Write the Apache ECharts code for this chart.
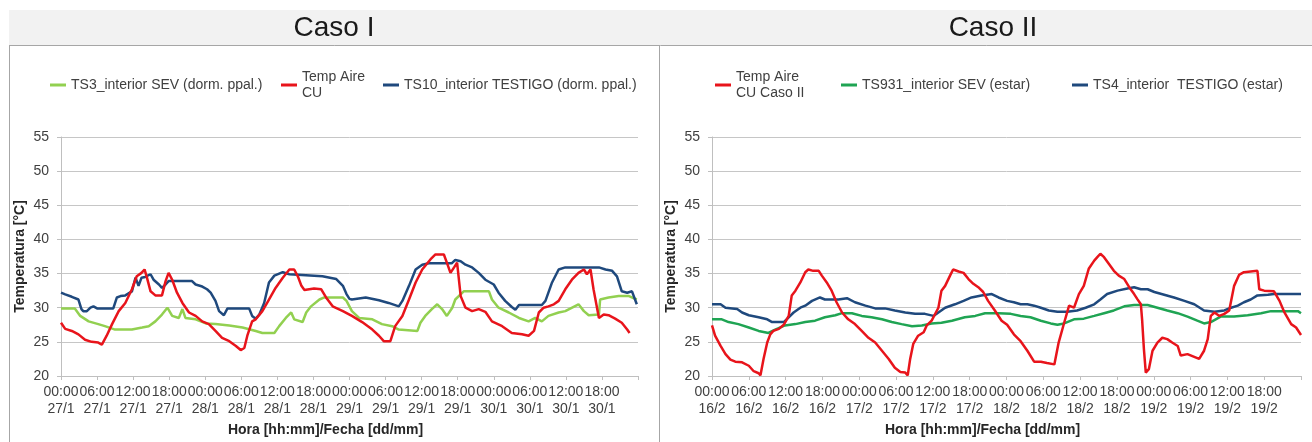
<!DOCTYPE html>
<html>
<head>
<meta charset="utf-8">
<script src="https://cdn.jsdelivr.net/npm/echarts@6/dist/echarts.min.js"></script>
<style>
html,body{margin:0;padding:0;background:#fff;}
#chart{width:1312px;height:442px;}
</style>
</head>
<body>
<div id="chart"></div>
<script>
// ---------- tick labels ----------
const hourLabels = ['00:00', '06:00', '12:00', '18:00'];
const caso1Dates = ['27/1', '28/1', '29/1', '30/1'];
const caso2Dates = ['16/2', '17/2', '18/2', '19/2'];

// ---------- series names ----------
const caso1Names = ['TS3_interior SEV (dorm. ppal.)', 'Temp Aire CU', 'TS10_interior TESTIGO (dorm. ppal.)'];
const caso2Names = ['Temp Aire CU Caso II', 'TS931_interior SEV (estar)', 'TS4_interior  TESTIGO (estar)'];

// ---------- data: [hours since first 00:00, °C] ----------
const caso1Ts3 = [[0,29.9],[2.3,29.9],[3.2,28.8],[4.6,28],[6.2,27.6],[7.3,27.3],[9,26.8],[11.8,26.8],[13.5,27.1],[14.6,27.3],[15.7,28],[16.8,29],[17.7,30],[18.5,28.8],[19.6,28.5],[20.2,29.8],[20.7,28.5],[22.4,28.3],[24.1,27.7],[25.7,27.6],[28,27.4],[30.2,27.1],[32.4,26.6],[33.5,26.3],[35.5,26.3],[36.3,27.3],[37.4,28.5],[38.3,29.3],[38.8,28.3],[40.2,27.9],[40.8,29.3],[41.6,30.2],[43,31.2],[43.8,31.5],[46.9,31.5],[47.5,31],[48.4,29.5],[49.6,28.5],[51.8,28.3],[53.4,27.6],[55.1,27.3],[56.2,26.8],[59.3,26.6],[59.8,27.8],[60.6,28.8],[61.7,29.8],[62.6,30.5],[63.4,29.8],[64.2,28.8],[65.1,30],[65.6,31.2],[67,32.4],[71.2,32.4],[71.7,31.2],[72.8,30],[74.5,29.3],[76.2,28.5],[77.8,28],[78.9,28.5],[80,28],[81.1,28.8],[82.8,29.3],[83.9,29.5],[86.1,30.5],[87,29.5],[87.8,28.9],[89.5,29],[89.7,31.2],[91.1,31.5],[92.8,31.7],[94.5,31.7],[95.8,31.2]];
const caso1TempAire = [[0,27.8],[0.7,26.9],[1.8,26.6],[2.9,26.1],[4,25.3],[5.1,25],[6.2,24.9],[6.8,24.6],[7.6,25.9],[8.5,27.6],[9.6,29.5],[10.7,30.7],[11.8,32.7],[12.6,34.6],[13.4,35.1],[13.9,35.6],[14.3,34.4],[14.9,32.4],[15.7,31.8],[16.8,31.8],[17.4,33.9],[17.9,35.1],[18.5,34.1],[19.3,32.2],[20.2,30.7],[21.3,29.3],[22.4,28.8],[23.5,28],[24.6,27.6],[25.7,26.6],[26.8,25.6],[28,25.1],[29.1,24.4],[29.9,23.8],[30.5,24.1],[31,25.9],[31.8,28],[32.4,28.3],[33.5,29.5],[34.6,31.2],[35.7,32.9],[36.9,34.4],[38,35.6],[38.8,35.6],[39.4,34.6],[40,33.2],[40.5,32.6],[41.3,32.7],[42.1,32.8],[43.3,32.7],[44.1,31.5],[45.2,30.2],[46.9,29.5],[48,29],[48.4,28.8],[50.1,27.9],[51.8,26.8],[52.9,25.9],[53.7,25.1],[54.8,25.1],[55.6,27.3],[56.8,28.8],[57.9,31.2],[59,33.7],[60.1,35.6],[61.5,37.1],[62.3,37.8],[63.7,37.8],[64.2,36.6],[64.8,35.1],[65.4,35.9],[65.9,36.6],[66.5,31.7],[67.3,30],[68.4,29.5],[69.5,29.8],[70.6,29.4],[71.7,28],[73.4,27.3],[75,26.3],[76.7,26.1],[77.8,25.9],[78.7,26.6],[79.5,29.3],[80.3,30],[81.1,30.2],[82,30.5],[82.8,31],[83.9,32.7],[85,34.1],[86.1,35.1],[87,35.6],[87.5,34.9],[88.1,35.6],[88.6,32.7],[89.5,28.5],[90.3,29],[91.1,28.9],[92.2,28.4],[93.3,27.8],[94.2,26.8],[94.6,26.3]];
const caso1Ts10 = [[0,32.2],[0.7,31.95],[1.8,31.6],[2.9,31.2],[3.4,29.8],[3.7,29.5],[4.3,29.5],[4.9,30],[5.4,30.2],[6,29.9],[8.7,29.9],[9.3,31.5],[9.9,31.7],[10.7,31.8],[11.8,32.4],[12.4,34.4],[12.9,33.2],[13.4,34.4],[14,34.5],[14.9,34.9],[15.4,34.1],[16.3,33.4],[16.8,32.9],[17.4,33.4],[17.9,33.9],[21.8,33.9],[22.4,33.4],[23.5,33.1],[24.3,32.7],[24.9,32.2],[25.7,31],[26.3,29.5],[27.1,28.9],[27.7,29.9],[31.3,29.9],[31.8,28.8],[32.4,28.4],[33,29],[33.8,30.7],[34.6,33.7],[35.5,34.7],[36.9,35.2],[38,34.9],[43.5,34.6],[45.8,34.2],[46.9,33.2],[47.5,32],[48,31.3],[48.4,31.2],[50.7,31.5],[52.9,31.1],[54.5,30.7],[56.2,30.2],[56.8,31],[57.9,33.2],[59,35.6],[60.1,36.3],[61.2,36.5],[65,36.5],[65.6,37],[66.5,36.8],[67.3,36.3],[68.4,35.9],[69.5,35.1],[70.6,34.1],[72,33.4],[72.8,32.2],[73.9,31],[75,30.1],[75.6,29.7],[76.2,30.4],[80,30.4],[80.6,31],[81.7,33.7],[82.8,35.6],[83.9,35.9],[89.5,35.9],[90.6,35.6],[91.7,35.4],[92.5,34.6],[93.3,32.4],[94.2,32.2],[95,32.4],[95.8,30.5]];

const caso2TempAire = [[0,27.4],[0.5,25.9],[1.4,24.4],[2.2,23.2],[3,22.4],[3.8,22.1],[4.9,22],[6,21.5],[6.8,20.7],[7.6,20.4],[7.9,20.1],[8.4,22.5],[9,24.9],[9.5,26.1],[10,26.6],[10.9,26.9],[11.7,27.5],[12.5,28.8],[13,31.8],[13.6,32.5],[14.4,33.7],[15.2,35.2],[15.7,35.6],[16.5,35.4],[17.4,35.4],[17.9,34.7],[18.7,33.7],[19.5,32.5],[20.3,30.8],[21.2,29.3],[22.2,28.3],[23.3,27.6],[24.4,26.6],[25.5,25.6],[26.6,24.9],[27.7,23.7],[28.8,22.5],[29.8,21.2],[30.7,20.6],[31.5,20.5],[31.9,20.1],[32.3,22.5],[32.8,24.7],[33.6,25.9],[34.5,26.4],[35,27.4],[35.8,28.1],[36.9,30],[37.4,32.5],[38,33.2],[38.8,34.7],[39.3,35.6],[40.2,35.3],[41,35.1],[41.8,34.2],[42.6,33.5],[43.4,33],[44.2,32.3],[45,31],[46.1,29.6],[47.2,28.1],[48.1,27.5],[49.2,26.1],[50.3,25.1],[51.4,23.7],[52.5,22.1],[53.6,22.1],[54.6,21.9],[55.8,21.7],[56.5,24.9],[57.4,27.8],[58.2,30.3],[59,30],[59.8,32],[60.6,33.2],[61.4,35.7],[62.3,36.9],[62.8,37.4],[63.3,37.9],[63.9,37.4],[64.7,36.4],[65.5,35.4],[66.3,34.7],[67.2,34.2],[68,33],[68.8,32],[69.3,31.3],[69.9,30.5],[70.1,28.3],[70.4,23.9],[70.7,20.5],[71.2,21],[71.8,23.7],[72.6,24.9],[73.4,25.6],[74.2,25.4],[75,24.9],[75.9,24.4],[76.4,23],[77.5,23.2],[78.6,22.8],[79.4,22.5],[80.2,23.7],[80.8,25.4],[81.3,28.8],[81.9,29.3],[82.7,28.8],[83.5,29.1],[84.3,29.6],[85.1,33.2],[85.9,34.8],[86.7,35.2],[87.8,35.3],[88.9,35.4],[89.2,32.7],[90,32.5],[91.6,32.4],[92.5,31],[93.3,29.3],[94.4,27.6],[95.2,27.1],[96,26]];
const caso2Ts931 = [[0,28.3],[1.6,28.3],[2.7,27.9],[4.3,27.6],[6,27.1],[7.6,26.6],[9.2,26.3],[10.3,26.8],[11.9,27.4],[13.6,27.6],[15.2,27.9],[16.8,28.1],[18.4,28.6],[20.1,28.9],[21.2,29.2],[22.8,29.2],[24.4,28.8],[26,28.6],[27.7,28.3],[29.3,27.9],[30.9,27.6],[32.6,27.3],[34.2,27.4],[35.8,27.7],[37.4,27.8],[39.1,28.1],[41.2,28.6],[42.9,28.8],[44.5,29.2],[46.7,29.2],[48.7,29.1],[50.3,28.8],[51.9,28.6],[53.6,28.1],[55.2,27.7],[56.3,27.5],[57.4,27.7],[59,28.3],[60.6,28.4],[62.3,28.8],[63.9,29.2],[65.5,29.6],[67.2,30.2],[68.8,30.4],[71,30.4],[72.6,30],[74.2,29.6],[75.9,29.2],[77.5,28.7],[79.1,28.1],[80.2,27.7],[81.3,27.9],[82.9,28.7],[85.1,28.7],[87.3,28.9],[89.5,29.2],[91.1,29.5],[95.5,29.5],[96,29.2]];
const caso2Ts4 = [[0,30.5],[1.4,30.5],[2.2,30],[3.3,29.9],[4.1,29.8],[4.9,29.3],[6,28.9],[7.6,28.6],[9,28.3],[9.8,27.9],[11.7,27.9],[12.5,28.6],[13.3,29.3],[14.4,30],[15.2,30.3],[16.3,31],[17.6,31.5],[18.4,31.2],[20.6,31.2],[22,31.4],[23.3,30.8],[25,30.3],[26.6,29.9],[28.2,29.9],[29.8,29.6],[31.5,29.3],[33.1,29.1],[34.7,29.1],[36.1,28.8],[36.9,29.3],[38,30],[39.6,30.5],[41,31],[42.3,31.5],[43.9,31.8],[45.6,32],[46.7,31.5],[48.1,31],[49.2,30.8],[50.3,30.5],[51.4,30.5],[52.5,30.3],[53.6,30],[54.9,29.6],[56.3,29.4],[57.9,29.4],[59.5,29.6],[60.9,30],[62.3,30.5],[63.3,31.2],[64.4,32],[66.1,32.5],[67.7,32.8],[68.8,33],[69.9,32.7],[71,32.7],[72.1,32.3],[73.7,31.9],[75.3,31.5],[77,31],[78.6,30.5],[80.2,29.6],[81.9,29.4],[83.5,29.6],[84.6,30],[85.7,30.3],[86.7,30.8],[87.8,31.2],[88.9,31.8],[90.6,31.9],[91.6,32],[96,32]];

// ---------- styling ----------
const FONT = '"Liberation Sans", Arial, sans-serif';
const LABEL_COLOR = '#404040';
const AXIS_COLOR = '#bfbfbf';

function xAxisFor(gridIndex, dates) {
  return {
    type: 'value', gridIndex: gridIndex, min: 0, max: 96, interval: 6,
    name: 'Hora [hh:mm]/Fecha [dd/mm]', nameLocation: 'middle', nameGap: 45,
    nameTextStyle: { fontFamily: FONT, fontSize: 14, fontWeight: 'bold', color: '#262626', padding: [0, 48, 0, 0] },
    axisLine: { show: true, lineStyle: { color: AXIS_COLOR, width: 1 } },
    axisTick: { show: true, length: 4, lineStyle: { color: AXIS_COLOR } },
    splitLine: { show: false },
    axisLabel: {
      fontFamily: FONT, fontSize: 14, color: LABEL_COLOR, margin: 8, lineHeight: 17,
      showMaxLabel: true,
      formatter: function (v) {
        if (v >= 96) return '';
        const idx = Math.round(v / 6);
        return hourLabels[idx % 4] + '\n' + dates[Math.floor(idx / 4)];
      }
    }
  };
}
function yAxisFor(gridIndex) {
  return {
    type: 'value', gridIndex: gridIndex, min: 20, max: 55, interval: 5,
    name: 'Temperatura [°C]', nameLocation: 'middle', nameGap: 34,
    nameTextStyle: { fontFamily: FONT, fontSize: 14, fontWeight: 'bold', color: '#262626' },
    axisLine: { show: true, lineStyle: { color: AXIS_COLOR, width: 1 } },
    axisTick: { show: true, length: 4, lineStyle: { color: AXIS_COLOR } },
    splitLine: { show: true, lineStyle: { color: '#c6c6c6', width: 1 } },
    axisLabel: { fontFamily: FONT, fontSize: 14, color: LABEL_COLOR, margin: 12 }
  };
}
function lineSeries(name, data, color, idx) {
  return {
    type: 'line', name: name, data: data, xAxisIndex: idx, yAxisIndex: idx,
    showSymbol: false, symbol: 'none', color: color,
    lineStyle: { width: 2.5, color: color }, animation: false
  };
}
function legendFor(name, left, multi) {
  return {
    data: [name], left: left, top: multi ? 61 : 77, padding: 0,
    icon: 'rect', itemWidth: 16, itemHeight: 3, selectedMode: false,
    formatter: function (n) {
      return n.replace('Temp Aire CU Caso II', 'Temp Aire\nCU Caso II').replace(/^Temp Aire CU$/, 'Temp Aire\nCU');
    },
    textStyle: { fontFamily: FONT, fontSize: 14, color: LABEL_COLOR, lineHeight: 16, padding: multi ? [16, 0, 0, 0] : 0 }
  };
}

const chart = echarts.init(document.getElementById('chart'));
chart.setOption({
  animation: false,
  backgroundColor: '#ffffff',
  grid: [
    { left: 61, top: 137, width: 577, height: 239, outerBoundsMode: 'none', containLabel: false },
    { left: 712, top: 137, width: 589, height: 239, outerBoundsMode: 'none', containLabel: false }
  ],
  xAxis: [xAxisFor(0, caso1Dates), xAxisFor(1, caso2Dates)],
  yAxis: [yAxisFor(0), yAxisFor(1)],
  legend: [
    legendFor(caso1Names[0], 50, false),
    legendFor(caso1Names[1], 281, true),
    legendFor(caso1Names[2], 383, false),
    legendFor(caso2Names[0], 715, true),
    legendFor(caso2Names[1], 841, false),
    legendFor(caso2Names[2], 1072, false)
  ],
  graphic: [
    { type: 'rect', shape: { x: 9, y: 10, width: 1303, height: 35 }, style: { fill: '#f2f2f2' }, z: -1, silent: true },
    { type: 'line', shape: { x1: 9, y1: 45.5, x2: 1312, y2: 45.5 }, style: { stroke: '#a6a6a6', lineWidth: 1 }, silent: true },
    { type: 'line', shape: { x1: 9.5, y1: 45, x2: 9.5, y2: 442 }, style: { stroke: '#a6a6a6', lineWidth: 1 }, silent: true },
    { type: 'line', shape: { x1: 659.5, y1: 45, x2: 659.5, y2: 442 }, style: { stroke: '#a6a6a6', lineWidth: 1 }, silent: true },
    { type: 'text', x: 334, y: 28, style: { text: 'Caso I', font: '28px ' + FONT, fill: '#1a1a1a', align: 'center', verticalAlign: 'middle' }, silent: true },
    { type: 'text', x: 993, y: 28, style: { text: 'Caso II', font: '28px ' + FONT, fill: '#1a1a1a', align: 'center', verticalAlign: 'middle' }, silent: true }
  ],
  series: [
    lineSeries(caso1Names[0], caso1Ts3, '#92D050', 0),
    lineSeries(caso1Names[2], caso1Ts10, '#1F497D', 0),
    lineSeries(caso1Names[1], caso1TempAire, '#E8141B', 0),
    lineSeries(caso2Names[1], caso2Ts931, '#1FA453', 1),
    lineSeries(caso2Names[2], caso2Ts4, '#1F497D', 1),
    lineSeries(caso2Names[0], caso2TempAire, '#E8141B', 1)
  ]
});
</script>
</body>
</html>
